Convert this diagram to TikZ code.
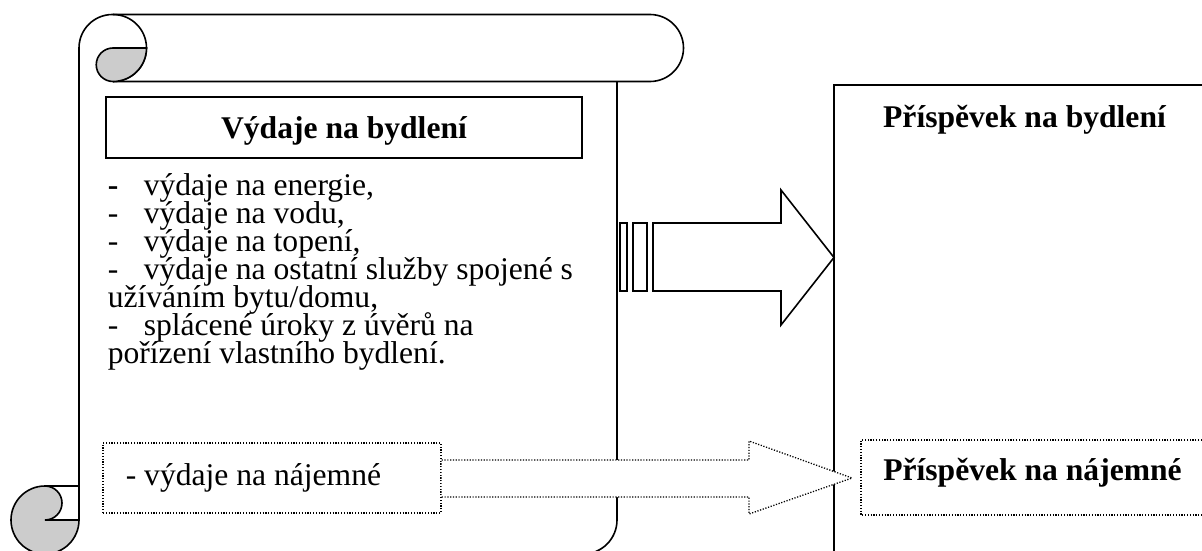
\documentclass[tikz,border=0pt]{standalone}
\usepackage{fontspec}
\setmainfont{Liberation Serif}
\begin{document}
\begin{tikzpicture}[x=1pt,y=-1pt, line width=1.6pt, line join=miter,
  txt/.style={inner sep=0pt, text height=20pt, text depth=6pt, font=\fontsize{31.6}{28}\selectfont},
  btxt/.style={inner sep=0pt, font=\fontsize{31.6}{28}\selectfont\bfseries},
  dots/.style={line width=1.3pt, dash pattern=on 1.2pt off 1.6pt},
  curl/.style={fill=black!20, line width=1.6pt}]
\clip (0,0) rectangle (1202,551);
% ---- scroll ----
\draw (79,520) -- (79,48) arc[start angle=180, end angle=270, radius=33.5]
  -- (650,14.5) arc[start angle=270, end angle=450, radius=33.5] -- (113,81.5);
\draw (113,14.5) arc[start angle=270, end angle=450, radius=33.5];
\draw[curl] (113,48) -- (146.5,48) arc[start angle=0, end angle=90, radius=33.5]
  arc[start angle=90, end angle=270, radius=16.75] -- cycle;
\draw (45,554) -- (583,554) arc[start angle=90, end angle=0, radius=34] -- (617,81.5);
\draw[curl] (45,486) arc[start angle=270, end angle=0, radius=34] -- (45,520)
  arc[start angle=90, end angle=-90, radius=17] -- cycle;
\draw (45,486) -- (79,486);
% ---- right box ----
\draw (1230,85) -- (834,85) -- (834,580);
\draw[dots] (1230,440) -- (861,440) -- (861,515) -- (1230,515);
% ---- left content ----
\node[draw, line width=1.3pt, minimum width=476pt, minimum height=61pt, inner sep=0pt] (title) at (344,127.5) {};
\node[btxt, anchor=base] (titletext) at (344,138) {Výdaje na bydlení};
\node[txt, anchor=base west] (l1) at (107,195) {\makebox[36pt][l]{\bfseries -}výdaje na energie,};
\node[txt, anchor=base west] (l2) at (107,223) {\makebox[36pt][l]{-}výdaje na vodu,};
\node[txt, anchor=base west] (l3) at (107,251) {\makebox[36pt][l]{-}výdaje na topení,};
\node[txt, anchor=base west] (l4) at (107,279) {\makebox[36pt][l]{-}výdaje na ostatní služby spojené s};
\node[txt, anchor=base west] (l5) at (107,307) {užíváním bytu/domu,};
\node[txt, anchor=base west] (l6) at (107,335) {\makebox[36pt][l]{-}splácené úroky z úvěrů na};
\node[txt, anchor=base west] (l7) at (107,363) {pořízení vlastního bydlení.};
\node[draw, dots, minimum width=338pt, minimum height=70pt, inner sep=0pt] (najbox) at (272,478) {};
\node[txt, anchor=base west] (najtext) at (125,485) {- výdaje na nájemné};
% ---- arrows ----
\draw[fill=white] (620,223) rectangle (627,291);
\draw[fill=white] (633,223) rectangle (647,291);
\coordinate (tip1) at (834,257.5);
\draw[fill=white] (653,223) -- (781,223) -- (781,190) -- (tip1) -- (781,325) -- (781,291) -- (653,291) -- cycle;
\coordinate (tip2) at (852,478);
\draw[dots, fill=white] (najbox.east |- 0,460) -- (749,460) -- (749,441) -- (tip2) -- (749,514) -- (749,497) -- (najbox.east |- 0,497);
% ---- right texts ----
\node[btxt, anchor=base] (prisp) at (1024.5,127) {Příspěvek na bydlení};
\node[btxt, anchor=base] (najem) at (1032.5,480) {Příspěvek na nájemné};
\end{tikzpicture}
\end{document}
